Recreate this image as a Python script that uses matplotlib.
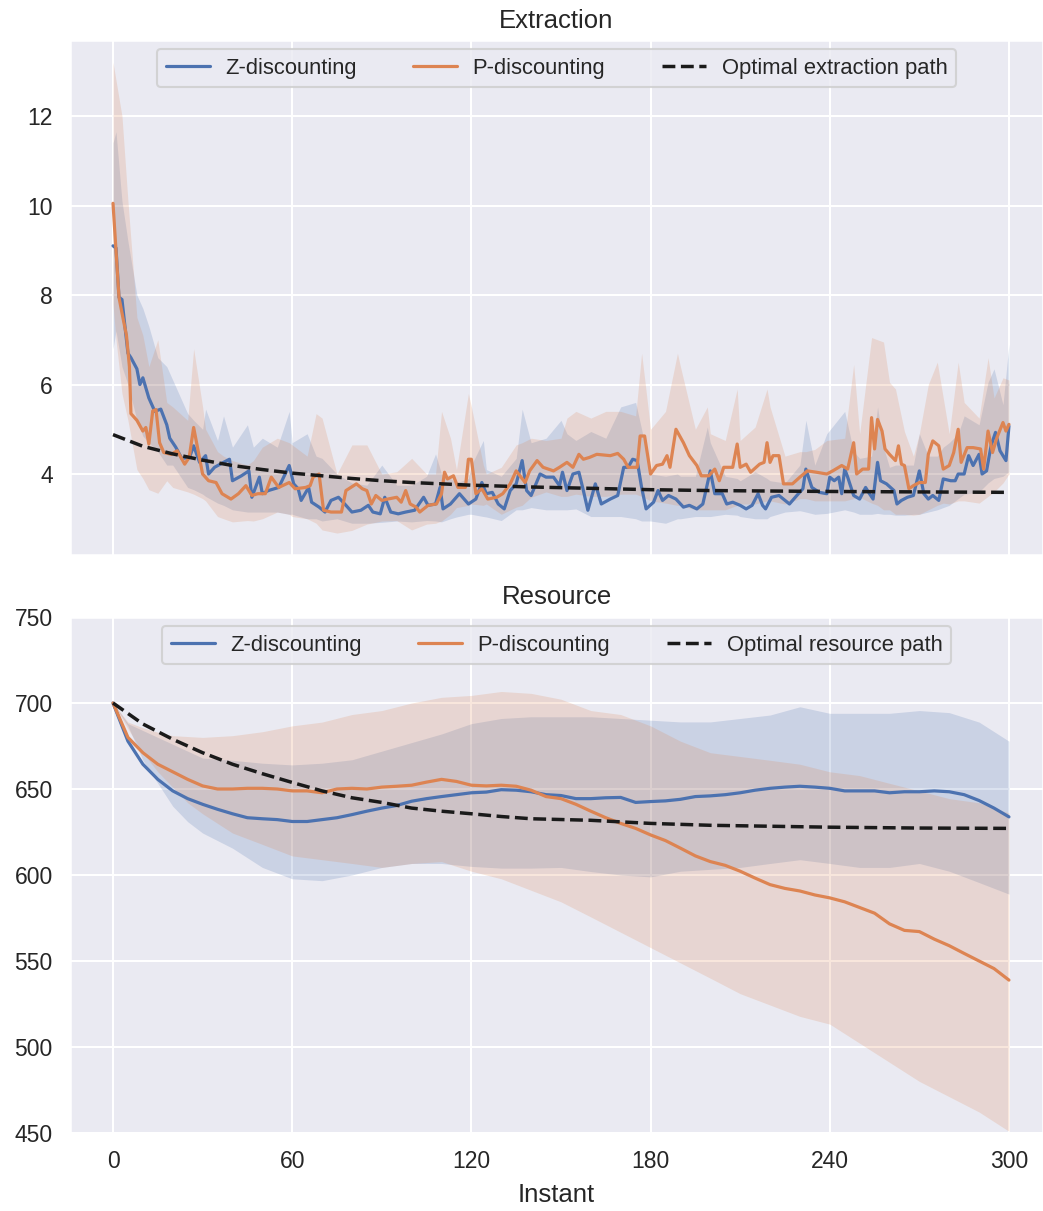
import matplotlib
matplotlib.use("Agg")
import matplotlib.pyplot as plt
import seaborn as sns

# ---------------- extraction data ----------------
z_ext_t = [0, 1, 2, 3, 5, 6, 8, 9, 10, 12, 14, 16, 18, 19, 21, 23, 25.6, 27, 29, 31,
           32, 34, 37, 39, 40, 43, 45.5, 46.5, 49, 50, 52, 55.5, 59, 60.5, 62, 63,
           65.5, 66.5, 69, 71, 73, 75.5, 78, 80, 83, 85.5, 87, 89.5, 91, 93, 95.5,
           98, 101, 104, 105.5, 108, 109.5, 110.5, 113, 116, 119, 121.5, 123.5, 125,
           127, 129, 131, 133, 135, 137, 138.5, 140, 143, 145, 147.5, 149.5, 150.5,
           152, 154, 156, 157.5, 159, 161.5, 163.5, 166.5, 169, 171, 172.5, 174,
           175.5, 177, 178.5, 181, 182.5, 184, 186, 188.5, 191, 193, 195.5, 197.5,
           200, 201.5, 204, 205.5, 207.5, 210, 212, 214, 216, 217.5, 218.5, 220.5,
           223, 226.5, 229.5, 231, 232, 234, 236.5, 239, 240, 241.5, 243, 244, 245,
           246, 248, 250, 252, 253, 254.5, 256, 257, 259, 261.5, 262.5, 264, 266,
           268, 270, 271.5, 273, 274.5, 276.5, 278, 280.5, 282, 283, 285, 286.5,
           288, 290, 291, 292.5, 294, 295.5, 297, 299, 300]
z_ext = [9.1, 9.05, 7.95, 7.9, 6.7, 6.6, 6.35, 6.0, 6.15, 5.7, 5.4, 5.45, 5.1, 4.8,
         4.6, 4.35, 4.37, 4.63, 4.26, 4.41, 4.0, 4.15, 4.26, 4.33, 3.85, 3.96, 4.07,
         3.48, 3.93, 3.56, 3.63, 3.70, 4.19, 3.78, 3.67, 3.41, 3.70, 3.37, 3.26, 3.15,
         3.41, 3.48, 3.30, 3.15, 3.19, 3.30, 3.15, 3.11, 3.48, 3.15, 3.11, 3.15, 3.19,
         3.48, 3.30, 3.33, 3.70, 3.22, 3.33, 3.56, 3.33, 3.44, 3.81, 3.56, 3.59, 3.33,
         3.22, 3.63, 3.78, 4.30, 3.63, 3.52, 4.0, 3.93, 3.93, 3.74, 4.04, 3.63, 4.0,
         4.04, 3.63, 3.19, 3.78, 3.33, 3.44, 3.52, 4.15, 4.15, 4.33, 4.30, 3.70, 3.22,
         3.37, 3.63, 3.41, 3.52, 3.44, 3.26, 3.30, 3.22, 3.33, 4.07, 3.56, 3.56, 3.33,
         3.37, 3.30, 3.22, 3.30, 3.56, 3.30, 3.22, 3.48, 3.52, 3.33, 3.56, 3.67, 4.11,
         3.70, 3.59, 3.56, 3.93, 3.85, 3.93, 3.56, 4.11, 3.93, 3.52, 3.44, 3.70, 3.59,
         3.44, 4.26, 3.85, 3.78, 3.63, 3.33, 3.41, 3.48, 3.52, 4.07, 3.56, 3.44, 3.52,
         3.41, 3.89, 3.85, 3.85, 4.0, 4.0, 4.41, 4.19, 4.44, 4.0, 4.07, 4.63, 4.93,
         4.52, 4.30, 5.07]

p_ext_t = [0, 1, 2, 3.3, 4.5, 5.5, 6, 8, 10, 11, 12, 13.3, 14.4, 15.6, 17, 19.5, 21.5,
           24, 25.5, 27, 28.3, 30, 32, 34.5, 36.5, 39.5, 42, 44.5, 46.5, 48.5, 51, 53,
           55.5, 59, 61, 64.5, 66, 67, 69, 70.5, 73, 76.5, 78, 81.5, 83.5, 85, 86.5,
           88, 90, 92, 95, 96.5, 98, 99.5, 101.5, 102.7, 105.5, 108.3, 110, 111, 112,
           114, 115.5, 118, 119, 120, 121.5, 123.5, 125.5, 128.5, 130.5, 133, 135,
           138, 139.5, 142, 144, 147.5, 149.5, 152, 154, 156, 157.5, 159.5, 162,
           166.5, 169, 171, 172.5, 175.5, 176.5, 178, 180, 182, 184, 185.5, 186.5,
           188.5, 191, 193, 195.5, 197, 199.5, 201.5, 203, 204.5, 207.5, 209, 210,
           212, 213.5, 216.5, 218, 219, 220, 221, 223, 224.5, 227.5, 230, 232.5,
           235.5, 239, 241, 244, 246, 248, 249, 251, 253, 254, 255, 256, 257.5, 258.5,
           260, 262, 263, 264, 265, 266.5, 268, 270, 272, 273, 274.5, 276.5, 278, 280,
           281.5, 283, 284, 286, 288, 290.5, 291.5, 293, 294.5, 296, 298, 299, 300]
p_ext = [10.05, 9.0, 7.95, 7.5, 7.1, 6.4, 5.35, 5.2, 4.96, 5.04, 4.67, 5.41, 5.44, 4.70,
         4.48, 4.44, 4.52, 4.22, 4.37, 5.04, 4.59, 4.0, 3.85, 3.81, 3.56, 3.44, 3.56,
         3.74, 3.52, 3.56, 3.56, 3.93, 3.70, 3.81, 3.67, 3.70, 3.74, 3.93, 4.0, 3.19,
         3.15, 3.15, 3.63, 3.78, 3.67, 3.63, 3.33, 3.52, 3.41, 3.44, 3.48, 3.37, 3.63,
         3.33, 3.26, 3.15, 3.30, 3.33, 3.56, 4.04, 3.89, 3.96, 3.70, 3.70, 4.33, 4.33,
         3.56, 3.67, 3.44, 3.48, 3.56, 3.78, 4.07, 3.81, 4.07, 4.30, 4.15, 4.07, 4.15,
         4.26, 4.15, 4.44, 4.33, 4.37, 4.44, 4.41, 4.46, 4.33, 4.15, 4.15, 4.85, 4.85,
         4.0, 4.19, 4.22, 4.41, 4.15, 5.0, 4.70, 4.41, 4.19, 3.96, 3.96, 4.11, 3.85,
         4.15, 4.15, 4.67, 4.15, 4.22, 4.04, 4.22, 4.26, 4.70, 4.26, 4.41, 4.41, 3.78,
         3.78, 3.93, 4.07, 4.04, 4.0, 4.07, 4.19, 4.11, 4.70, 4.0, 4.11, 4.11, 5.26,
         4.56, 5.22, 4.96, 4.56, 4.44, 4.30, 4.63, 4.22, 4.19, 3.67, 3.74, 3.81, 3.81,
         4.44, 4.74, 4.63, 4.11, 4.19, 4.48, 5.0, 4.26, 4.59, 4.59, 4.56, 4.11, 4.96,
         4.48, 4.82, 5.15, 4.96, 5.11]

opt_ext_t = [0, 10, 20, 30, 40, 50, 60, 70, 80, 90, 100, 120, 140, 160, 180, 200,
             220, 240, 270, 300]
opt_ext = [4.88, 4.62, 4.45, 4.31, 4.19, 4.10, 4.02, 3.96, 3.90, 3.85, 3.81, 3.75,
           3.71, 3.68, 3.65, 3.63, 3.62, 3.61, 3.60, 3.59]

band_t = [0, 1, 3, 5, 8, 10, 12, 15, 18, 20,
          25, 27, 30, 31, 35, 37, 40, 45, 47, 50,
          55, 59, 60, 65, 68, 70, 75, 80, 85, 90,
          95, 100, 105, 108, 110, 113, 115, 119, 120, 124,
          125, 130, 135, 137, 140, 145, 150, 152, 155, 160,
          165, 170, 175, 177, 180, 185, 189, 190, 195, 199,
          200, 205, 209, 210, 215, 219, 220, 225, 230, 232,
          235, 239, 245, 248, 250, 254, 256, 258, 260, 262,
          265, 268, 270, 273, 276, 278, 280, 283, 285, 290,
          293, 295, 298, 300]
z_ext_hi = [11.4, 11.65, 10.1, 9.2, 8.0, 7.7, 7.3, 6.6, 6.4, 6.1,
            5.35, 5.2, 5.0, 5.45, 4.75, 5.3, 4.6, 5.1, 4.6, 4.8,
            4.6, 5.4, 4.7, 4.9, 4.4, 4.35, 4.0, 3.8, 3.75, 4.2,
            3.75, 3.75, 3.95, 4.45, 4.0, 3.9, 3.8, 3.9, 4.2, 4.75,
            4.1, 3.95, 4.35, 5.45, 4.7, 4.8, 5.2, 4.9, 4.75, 4.95,
            4.8, 5.5, 5.6, 5.0, 4.0, 3.95, 4.0, 3.95, 3.95, 5.05,
            4.7, 3.95, 3.9, 3.85, 4.05, 3.9, 3.85, 3.8, 4.2, 5.2,
            4.2, 4.9, 5.4, 4.5, 4.35, 4.4, 5.5, 4.6, 4.15, 4.2,
            4.2, 4.2, 4.9, 4.4, 4.4, 4.6, 4.7, 4.9, 5.3, 5.1,
            6.05, 6.35, 5.55, 6.9]
z_ext_lo = [6.8, 7.2, 6.4, 6.0, 5.2, 4.85, 4.7, 4.5, 4.2, 4.2,
            3.7, 3.65, 3.55, 3.5, 3.35, 3.3, 3.2, 3.15, 3.15, 3.15,
            3.15, 3.1, 3.1, 3.0, 3.0, 2.95, 3.0, 2.9, 2.9, 2.92,
            2.95, 2.93, 2.96, 2.95, 2.93, 3.0, 3.04, 3.1, 3.1, 3.05,
            3.04, 2.96, 3.2, 3.2, 3.25, 3.2, 3.2, 3.2, 3.22, 3.05,
            3.05, 3.05, 3.0, 2.95, 2.95, 2.9, 3.0, 3.0, 3.05, 3.05,
            3.05, 3.1, 3.08, 3.05, 3.0, 3.0, 3.05, 3.15, 3.18, 3.15,
            3.1, 3.12, 3.2, 3.15, 3.1, 3.1, 3.12, 3.1, 3.1, 3.08,
            3.08, 3.1, 3.1, 3.15, 3.2, 3.25, 3.3, 3.45, 3.55, 3.6,
            3.8, 3.9, 3.95, 4.05]
p_ext_hi = [13.2, 12.8, 12.0, 10.1, 7.5, 7.1, 6.4, 7.0, 5.6, 5.5,
            5.2, 6.8, 5.5, 5.0, 4.5, 4.4, 4.3, 4.2, 4.3, 4.6,
            4.8, 4.7, 4.65, 4.4, 5.35, 5.25, 4.0, 4.65, 4.65, 4.0,
            4.05, 4.35, 4.0, 4.0, 5.4, 4.8, 4.1, 5.8, 5.5, 4.2,
            4.0, 4.15, 4.65, 4.7, 4.8, 4.75, 4.8, 5.25, 5.4, 5.25,
            5.4, 5.4, 5.3, 6.7, 5.0, 5.4, 6.7, 6.4, 5.0, 5.5,
            4.9, 4.75, 5.9, 4.75, 5.05, 5.9, 5.5, 4.4, 4.5, 4.5,
            4.55, 4.75, 4.8, 6.45, 4.9, 7.05, 7.0, 6.95, 6.05, 5.9,
            4.95, 4.4, 4.9, 6.0, 6.5, 5.7, 4.9, 6.5, 5.6, 5.25,
            6.6, 5.7, 6.15, 6.1]
p_ext_lo = [7.8, 7.0, 5.8, 5.2, 4.1, 3.9, 3.65, 3.57, 3.85, 3.7,
            3.6, 3.55, 3.45, 3.4, 3.05, 3.0, 2.93, 2.96, 2.95, 3.0,
            3.15, 3.1, 3.05, 3.0, 2.9, 2.75, 2.68, 2.74, 2.88, 2.95,
            2.96, 2.75, 2.88, 2.9, 2.95, 3.1, 3.25, 3.3, 3.33, 3.3,
            3.33, 3.1, 3.26, 3.3, 3.48, 3.6, 3.5, 3.5, 3.55, 3.5,
            3.5, 3.55, 3.55, 3.5, 3.4, 3.35, 3.3, 3.3, 3.2, 3.2,
            3.2, 3.2, 3.3, 3.33, 3.33, 3.4, 3.4, 3.33, 3.45, 3.45,
            3.4, 3.4, 3.4, 3.45, 3.48, 3.35, 3.3, 3.2, 3.2, 3.1,
            3.1, 3.08, 3.1, 3.2, 3.3, 3.35, 3.33, 3.4, 3.4, 3.35,
            3.5, 3.6, 3.8, 4.0]

# ---------------- resource data ----------------
res_t = [0, 5, 10, 15, 20, 25, 30, 35, 40, 45, 50, 55, 60, 65, 70, 75, 80, 85, 90,
         95, 100, 105, 110, 115, 120, 125, 130, 135, 140, 145, 150, 155, 160, 165,
         170, 175, 180, 185, 190, 195, 200, 205, 210, 215, 220, 225, 230, 235, 240,
         245, 250, 255, 260, 265, 270, 275, 280, 285, 290, 295, 300]
z_res = [700, 677.8, 664.4, 655.6, 648.9, 644.4, 641.1, 638.2, 635.6, 633.3, 632.7,
         632.2, 631.1, 631.1, 632.2, 633.3, 635.1, 637.1, 638.9, 640.4, 642.9, 644.4,
         645.6, 646.7, 647.8, 648.2, 649.6, 649.3, 648.4, 646.7, 646.2, 644.4, 644.4,
         644.9, 645.1, 642.2, 642.7, 643.1, 644.0, 645.6, 646.0, 646.7, 647.8, 649.3,
         650.4, 651.1, 651.6, 651.1, 650.4, 648.9, 648.9, 648.9, 647.8, 648.4, 648.4,
         648.9, 648.4, 646.7, 643.3, 638.9, 633.8]
p_res = [700, 680, 671.1, 664.4, 660, 655.6, 651.8, 650, 650, 650.4, 650.4, 650,
         648.9, 648.9, 647.8, 650, 650.4, 650, 651.1, 651.6, 652.2, 654, 655.6, 654.4,
         652.2, 651.8, 652.2, 651.6, 649.3, 645.6, 644.4, 641.1, 637.1, 633.3, 630,
         627.1, 623.3, 620, 615.6, 611.1, 607.8, 605.6, 602.2, 598.2, 594.4, 592.2,
         590.7, 588.4, 586.7, 584.4, 581.1, 577.8, 571.6, 567.8, 567.1, 562.7, 558.9,
         554.4, 550, 545.6, 538.9]

opt_res_t = [0, 10, 20, 30, 40, 50, 60, 70, 80, 90, 100, 110, 120, 130, 140, 160,
             180, 200, 240, 270, 300]
opt_res = [700, 687.8, 678.9, 671.1, 664.4, 658.9, 653.8, 648.9, 644.9, 642.2, 638.9,
           637.1, 635.6, 634, 632.7, 631.8, 630, 628.9, 627.8, 627.3, 627.1]

res_band_t = [0, 5, 10, 15, 20, 25, 30, 40, 50, 60, 70, 80, 90, 100, 110, 120, 130,
              140, 150, 160, 170, 180, 190, 200, 210, 220, 230, 240, 250, 260, 270,
              280, 290, 300]
z_res_hi = [700, 688, 684, 680, 676, 672, 668, 666.7, 665, 664, 665, 667, 672, 677,
            682, 688, 691, 692, 692, 692, 691, 690, 689, 689, 691, 693, 697.8, 694,
            694, 694, 695.6, 694.4, 688.9, 677.8]
z_res_lo = [700, 686.7, 666.7, 653.3, 640, 631, 624.4, 615.6, 604.4, 597.8, 596.7,
            600, 604.4, 606.7, 606.7, 605, 604, 604, 604.4, 602, 600, 598.9, 602.2,
            603.3, 604.4, 606.7, 608.9, 606.7, 604.4, 604.4, 606.7, 602.2, 595.6, 588.9]
p_res_hi = [700, 688.9, 685.6, 683, 681, 680.5, 680, 681, 683.3, 686.7, 688.9, 693.3,
            695.6, 700, 703.3, 704.4, 706.7, 705.6, 702.2, 695.6, 693.3, 686.7, 677.8,
            671.1, 668.9, 666.7, 664.4, 660, 657.8, 653.3, 648.9, 644.4, 642, 636]
p_res_lo = [700, 685, 671, 660, 651, 642, 635.6, 624.4, 617.8, 611.1, 608.9, 606.7,
            604.4, 606.7, 607.8, 602.2, 597.8, 591.1, 584.4, 575.6, 566.7, 557.8, 548.9,
            540, 531, 524.4, 517.8, 513.3, 502.2, 491.1, 480, 471.1, 462.2, 451]

BLUE = "#4C72B0"
ORANGE = "#DD8452"


def draw_panel(ax, title, z, p, opt, opt_label):
    (bt_z, zt), zv, zlo, zhi = z
    (bt_p, pt), pv, plo, phi = p
    ax.fill_between(bt_z, zlo, zhi, color=BLUE, alpha=0.2, linewidth=0)
    ax.fill_between(bt_p, plo, phi, color=ORANGE, alpha=0.2, linewidth=0)
    ax.plot(zt, zv, color=BLUE, lw=2.3, label="Z-discounting")
    ax.plot(pt, pv, color=ORANGE, lw=2.3, label="P-discounting")
    ax.plot(opt[0], opt[1], color="k", ls="--", lw=2.5, label=opt_label)
    ax.set_title(title, fontsize=18.5, pad=9)
    ax.legend(loc="upper center", ncol=3, fontsize=15.8, framealpha=0.8,
              borderaxespad=0.4, columnspacing=2.6, handletextpad=0.7)


def main():
    sns.set_theme(style="darkgrid", context="talk")
    plt.rcParams["font.family"] = ["Liberation Sans", "DejaVu Sans"]

    fig = plt.figure(figsize=(10.43, 12.11), dpi=100)
    ax1 = fig.add_axes([70 / 1043, 1 - 555 / 1211, 1 - 70 / 1043, 515 / 1211])
    ax2 = fig.add_axes([70 / 1043, 1 - 1133 / 1211, 1 - 70 / 1043, 516 / 1211],
                       sharex=ax1)

    draw_panel(ax1, "Extraction",
               ((band_t, z_ext_t), z_ext, z_ext_lo, z_ext_hi),
               ((band_t, p_ext_t), p_ext, p_ext_lo, p_ext_hi),
               (opt_ext_t, opt_ext), "Optimal extraction path")
    draw_panel(ax2, "Resource",
               ((res_band_t, res_t), z_res, z_res_lo, z_res_hi),
               ((res_band_t, res_t), p_res, p_res_lo, p_res_hi),
               (opt_res_t, opt_res), "Optimal resource path")

    ax1.set_ylim(2.19, 13.7)
    ax1.set_yticks([4, 6, 8, 10, 12])
    ax2.set_ylim(450, 750)
    ax2.set_yticks([450, 500, 550, 600, 650, 700, 750])
    ax2.set_xlim(-14.4, 311.4)
    ax2.set_xticks([0, 60, 120, 180, 240, 300])
    ax1.tick_params(labelbottom=False)
    for ax in (ax1, ax2):
        ax.tick_params(labelsize=16.5)
    ax2.set_xlabel("Instant", fontsize=18.5, labelpad=7)

    fig.savefig("out.png", dpi=100)


if __name__ == "__main__":
    main()
